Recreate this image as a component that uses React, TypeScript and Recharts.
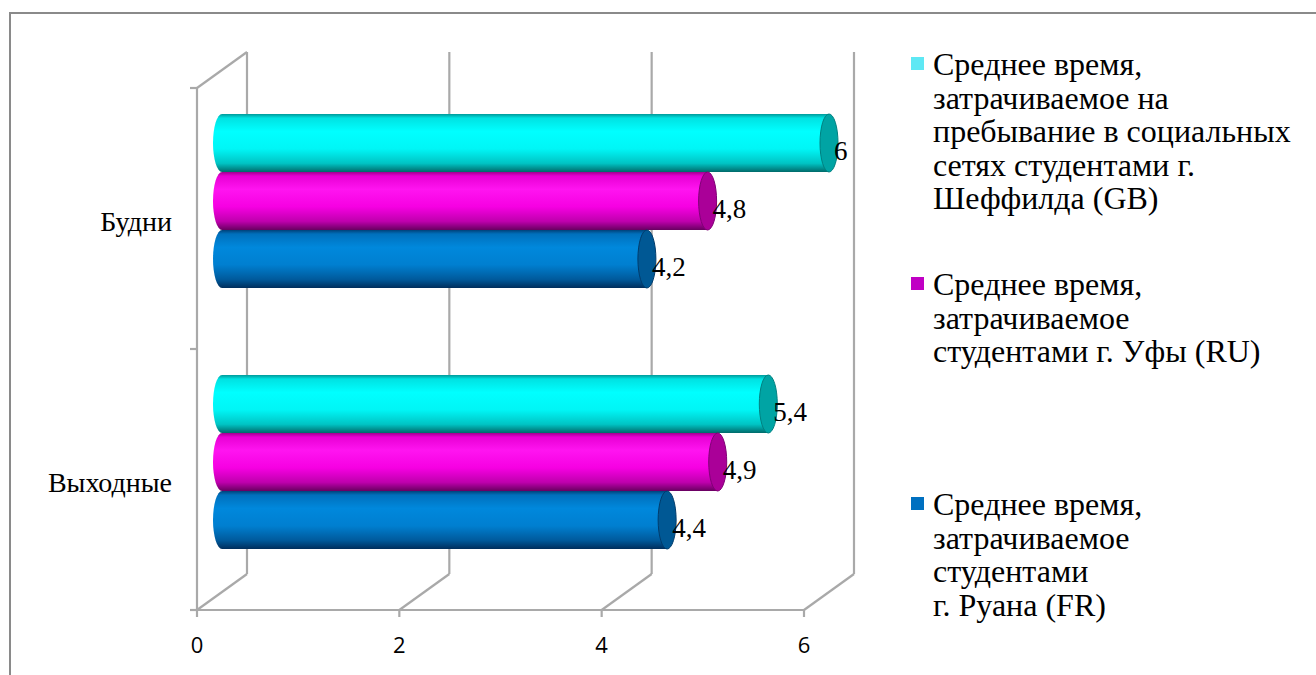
import React from 'react'
import { BarChart, Bar, XAxis, YAxis, CartesianGrid, LabelList, Legend } from 'recharts'

const categories = ['Будни', 'Выходные']
const sheffieldGB = [6, 5.4]
const ufaRU = [4.8, 4.9]
const rouenFR = [4.2, 4.4]
const xTicks = [0, 2, 4, 6]

const seriesKeys = ['gb', 'ru', 'fr']
const seriesNames = [
  'Среднее время, затрачиваемое на пребывание в социальных сетях студентами г. Шеффилда (GB)',
  'Среднее время, затрачиваемое студентами г. Уфы (RU)',
  'Среднее время, затрачиваемое студентами г. Руана (FR)',
]
// legend text is wrapped by hand, one array per series
const legendLines = [
  ['Среднее время,', 'затрачиваемое на', 'пребывание в социальных', 'сетях студентами г.', 'Шеффилда (GB)'],
  ['Среднее время,', 'затрачиваемое', 'студентами г. Уфы (RU)'],
  ['Среднее время,', 'затрачиваемое', 'студентами', 'г. Руана (FR)'],
]
const swatchColors = ['#5ee8f4', '#c000c4', '#0070c0']

const data = categories.map((category, i) => ({
  category,
  gb: sheffieldGB[i],
  ru: ufaRU[i],
  fr: rouenFR[i],
}))

const W = 1316
const H = 675
// depth offset between the middle plane (where bars sit) and the front/back walls
const DX = 25
const DY = 18
const FRAME = '#a9a9a9'
const SERIF = 'Liberation Serif, Times New Roman, serif'

const palettes: Record<string, { stops: [number, string][]; cap: string; capEdge: string }> = {
  gb: {
    stops: [[0, '#009a9a'], [0.07, '#00e2e2'], [0.3, '#00ffff'], [0.6, '#00f6f6'], [0.85, '#00c4c4'], [1, '#006a6a']],
    cap: '#00a4a4',
    capEdge: '#008080',
  },
  ru: {
    stops: [[0, '#a0008f'], [0.07, '#e800d4'], [0.3, '#ff14f0'], [0.6, '#f600e2'], [0.85, '#bf00ad'], [1, '#680060']],
    cap: '#aa0098',
    capEdge: '#800076',
  },
  fr: {
    stops: [[0, '#00427a'], [0.07, '#0070bc'], [0.3, '#0088dc'], [0.6, '#007fd0'], [0.85, '#005a9c'], [1, '#002e5c']],
    cap: '#005894',
    capEdge: '#003c6c',
  },
}

function makeCylinder(key: string) {
  const pal = palettes[key]
  return (props: any) => {
    const { x, y, width, height, index } = props
    if (width == null || height == null) return <g />
    const rx = 9
    const ry = height / 2
    const right = x + width
    const id = `cyl-${key}-${index}`
    const body = `M${right},${y} L${x},${y} A${rx},${ry} 0 0 0 ${x},${y + height} L${right},${y + height} Z`
    return (
      <g>
        <defs>
          <linearGradient id={id} x1="0" y1="0" x2="0" y2="1">
            {pal.stops.map(([o, c], i) => (
              <stop key={i} offset={o} stopColor={c} />
            ))}
          </linearGradient>
        </defs>
        <path d={body} fill={`url(#${id})`} />
        <ellipse cx={right} cy={y + ry} rx={rx} ry={ry} fill={pal.cap} stroke={pal.capEdge} strokeWidth={1} />
      </g>
    )
  }
}

// 3D frame: back-wall gridlines, floor diagonals, front axis lines and ticks
function frameLine(props: any) {
  const { x1, y1, y2, x, width, index } = props
  const top = Math.min(y1, y2)
  const bottom = Math.max(y1, y2)
  const fx = x1 - DX
  const bx = x1 + DX
  const fBottom = bottom + DY
  const parts = [
    <line key="back" x1={bx} y1={top - DY} x2={bx} y2={bottom - DY} />,
    <line key="floor" x1={fx} y1={fBottom} x2={bx} y2={bottom - DY} />,
    <line key="tick" x1={fx} y1={fBottom} x2={fx} y2={fBottom + 7} />,
  ]
  if (Math.abs(x1 - x) < 1) {
    const mid = (top + bottom) / 2 + DY
    parts.push(
      <line key="left" x1={fx} y1={top + DY} x2={fx} y2={fBottom} />,
      <line key="wallTop" x1={fx} y1={top + DY} x2={bx} y2={top - DY} />,
      <line key="axis" x1={fx} y1={fBottom} x2={x + width - DX} y2={fBottom} />,
      <line key="t0" x1={fx - 7} y1={top + DY} x2={fx} y2={top + DY} />,
      <line key="t1" x1={fx - 7} y1={mid} x2={fx} y2={mid} />,
      <line key="t2" x1={fx - 7} y1={fBottom} x2={fx} y2={fBottom} />,
    )
  }
  return (
    <g key={`frame-${index}`} stroke={FRAME} strokeWidth={2.2} fill="none">
      {parts}
    </g>
  )
}

function CategoryTick(props: any) {
  const { x, y, payload } = props
  return (
    <text x={x - 42} y={y + 30} textAnchor="end" fontFamily={SERIF} fontSize={28} fill="#000">
      {payload.value}
    </text>
  )
}

function ValueTick(props: any) {
  const { x, y, payload } = props
  return (
    <text x={x - DX} y={y + 53} textAnchor="middle" fontFamily="Open Sans, sans-serif" fontSize={22} fill="#000">
      {payload.value}
    </text>
  )
}

function ValueLabel(props: any) {
  const { x, y, width, height, value } = props
  return (
    <text x={x + width + 5} y={y + height / 2 + 17} fontFamily={SERIF} fontSize={27} fill="#000">
      {String(value).replace('.', ',')}
    </text>
  )
}

function LegendBlock() {
  return (
    <div style={{ position: 'relative', width: 411, height: 620, fontFamily: SERIF, fontSize: 32, lineHeight: '33.5px', color: '#000' }}>
      {legendLines.map((lines, i) => (
        <div key={i} style={{ position: 'absolute', left: 0, top: i * 220 }}>
          <div style={{ position: 'absolute', left: 6, top: 9, width: 13, height: 13, background: swatchColors[i] }} />
          <div style={{ position: 'absolute', left: 28, top: 0, whiteSpace: 'nowrap' }}>
            {lines.map((l, j) => (
              <div key={j}>{l}</div>
            ))}
          </div>
        </div>
      ))}
    </div>
  )
}

export default function App() {
  return (
    <div style={{ position: 'absolute', left: 0, top: 0, width: W, height: H, background: '#fff', overflow: 'hidden' }}>
      <div
        style={{
          position: 'absolute',
          left: 9,
          top: 12,
          width: W + 40,
          height: H + 40,
          borderLeft: '2px solid #8a8a8a',
          borderTop: '2px solid #8a8a8a',
        }}
      />
      <div style={{ position: 'absolute', left: 0, top: 0 }}>
        <BarChart
          width={W}
          height={H}
          data={data}
          layout="vertical"
          margin={{ top: 70, right: 487, bottom: 0, left: 0 }}
          barSize={58}
          barGap={0}
        >
          <CartesianGrid horizontal={false} vertical={frameLine} stroke={FRAME} />
          <XAxis
            type="number"
            domain={[0, 6]}
            ticks={xTicks}
            height={83}
            axisLine={false}
            tickLine={false}
            tick={<ValueTick />}
            interval={0}
          />
          <YAxis
            type="category"
            dataKey="category"
            width={222}
            axisLine={false}
            tickLine={false}
            tick={<CategoryTick />}
          />
          <Legend
            layout="vertical"
            align="center"
            verticalAlign="middle"
            wrapperStyle={{ left: 905, top: 48, width: 411 }}
            content={() => <LegendBlock />}
          />
          {seriesKeys.map((k, i) => (
            <Bar key={k} dataKey={k} name={seriesNames[i]} fill={swatchColors[i]} shape={makeCylinder(k)} isAnimationActive={false}>
              <LabelList dataKey={k} content={<ValueLabel />} />
            </Bar>
          ))}
        </BarChart>
      </div>
    </div>
  )
}
